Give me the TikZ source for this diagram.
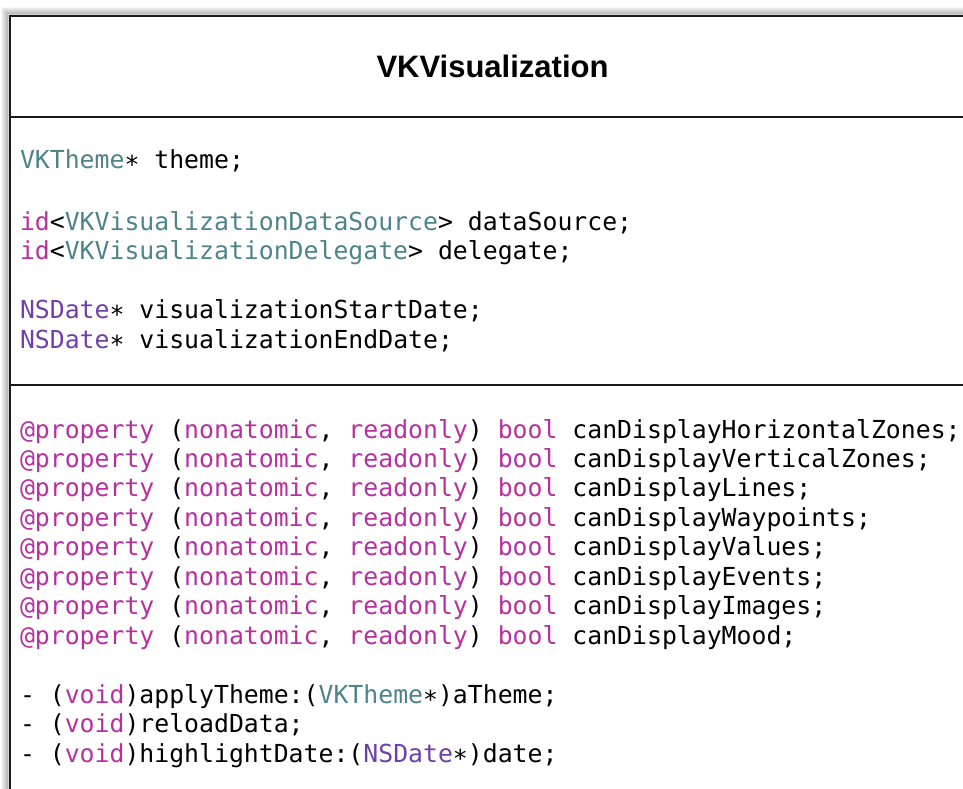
\documentclass[tikz,border=0pt]{standalone}
\usepackage{fontspec}
\setmainfont{Liberation Sans}
\newfontfamily\codefont{DejaVu Sans Mono}[Scale=1.0]
\definecolor{kwc}{HTML}{B8309F}
\definecolor{clsc}{HTML}{4E8489}
\definecolor{sysc}{HTML}{7040A8}
\newcommand{\kwt}[1]{\textcolor{kwc}{#1}}
\newcommand{\clst}[1]{\textcolor{clsc}{#1}}
\newcommand{\syst}[1]{\textcolor{sysc}{#1}}
\newcommand{\ptr}{\raisebox{-0.22em}{*}}
\newcommand{\propl}[1]{\kwt{@property} (\kwt{nonatomic}, \kwt{readonly}) \kwt{bool} #1;}
\tikzset{
  codeline/.style={anchor=base west, inner sep=0pt, outer sep=0pt, font=\codefont\fontsize{24.8}{29}\selectfont, text=black},
  titletext/.style={anchor=base, inner sep=0pt, font=\bfseries\fontsize{31}{36}\selectfont},
  boxline/.style={line width=2.4pt, draw=black!90}
}
\begin{document}
\begin{tikzpicture}[x=1pt,y=-1pt]
\useasboundingbox (0,0) rectangle (963,789);
\clip (0,0) rectangle (963,789);
% soft shadow
\foreach \i/\o in {1/0.03,2/0.05,3/0.07,4/0.09,5/0.11,6/0.13,7/0.16} {
  \draw[line width=1.2pt, black, opacity=\o] (10-9+\i,800) -- (10-9+\i,16-9+\i) -- (980,16-9+\i);
}
% box
\fill[white] (10,16) rectangle (990,800);
\draw[boxline] (990,16) -- (10,16) -- (10,800);
\draw[boxline] (10,117) -- (990,117);
\draw[boxline] (10,385) -- (990,385);
% title
\node[titletext] (title) at (492.5,78) {VKVisualization};
% attributes
\node[codeline] (a1) at (20,168) {\clst{VKTheme}\ptr{} theme;};
\node[codeline] (a2) at (20,230) {\kwt{id}<\clst{VKVisualizationDataSource}> dataSource;};
\node[codeline] (a3) at (20,259) {\kwt{id}<\clst{VKVisualizationDelegate}> delegate;};
\node[codeline] (a4) at (20,318) {\syst{NSDate}\ptr{} visualizationStartDate;};
\node[codeline] (a5) at (20,348) {\syst{NSDate}\ptr{} visualizationEndDate;};
% properties
\node[codeline] (p1) at (20,438) {\propl{canDisplayHorizontalZones}};
\node[codeline] (p2) at (20,467.4) {\propl{canDisplayVerticalZones}};
\node[codeline] (p3) at (20,496.9) {\propl{canDisplayLines}};
\node[codeline] (p4) at (20,526.3) {\propl{canDisplayWaypoints}};
\node[codeline] (p5) at (20,555.7) {\propl{canDisplayValues}};
\node[codeline] (p6) at (20,585.1) {\propl{canDisplayEvents}};
\node[codeline] (p7) at (20,614.6) {\propl{canDisplayImages}};
\node[codeline] (p8) at (20,644) {\propl{canDisplayMood}};
% methods
\node[codeline] (m1) at (20,703) {- (\kwt{void})applyTheme:(\clst{VKTheme}\ptr)aTheme;};
\node[codeline] (m2) at (20,732.5) {- (\kwt{void})reloadData;};
\node[codeline] (m3) at (20,762) {- (\kwt{void})highlightDate:(\syst{NSDate}\ptr)date;};
\end{tikzpicture}
\end{document}
